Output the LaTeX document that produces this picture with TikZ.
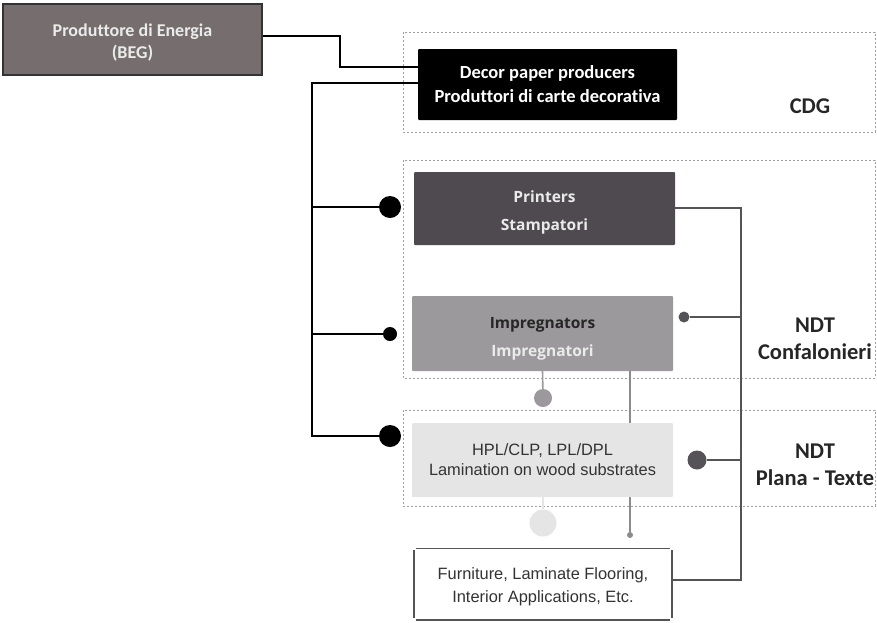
\documentclass[tikz,border=0pt]{standalone}
\usepackage{fontspec}
\setmainfont{Carlito}[Ligatures=NoCommon]
\newfontfamily\arialf{Liberation Sans}
\newfontfamily\opensf{Open Sans}
\definecolor{begc}{HTML}{756D6E}
\definecolor{printc}{HTML}{4E4A4F}
\definecolor{impc}{HTML}{9B999C}
\definecolor{hplc}{HTML}{E5E5E6}
\definecolor{linec}{HTML}{555358}
\definecolor{txtc}{HTML}{333333}
\begin{document}
\begin{tikzpicture}[x=1pt,y=1pt,
  box/.style={rectangle, inner sep=0pt, align=center, rounded corners=1pt},
  txt/.style={inner sep=0pt, align=center},
  grp/.style={draw=gray!75, dash pattern=on 2pt off 2pt, line width=0.9pt},
  lab/.style={font=\fontsize{22.5}{27}\selectfont\bfseries, align=center, text=black!85},
  dot/.style={circle, inner sep=0pt, minimum size=#1},
  blk/.style={line width=2.8pt, black},
  gln/.style={line width=2.4pt, linec}
]
\useasboundingbox (0,0) rectangle (877,-622);
% groups
\draw[grp] (403,-32) rectangle (875,-132);
\draw[grp] (403,-160) rectangle (875,-378);
\draw[grp] (403,-410) rectangle (875,-506);
\node[lab] (cdg) at (810,-106) {CDG};
\node[lab] (ndt1) at (815,-339) {NDT\\Confalonieri};
\node[lab] (ndt2) at (815,-465) {NDT\\Plana - Texte};
% coordinates
\coordinate (b0) at (312,-83);
\coordinate (b1) at (312,-207);
\coordinate (b2) at (312,-334);
\coordinate (b3) at (312,-436);
\coordinate (r0) at (741,-208);
\coordinate (r1) at (741,-317);
\coordinate (r2) at (741,-460);
\coordinate (r3) at (741,-580);
% dots
\node[dot=22pt, fill=black] (d1) at (390,-207) {};
\node[dot=14pt, fill=black] (d2) at (390,-334) {};
\node[dot=22pt, fill=black] (d3) at (390,-436) {};
\node[dot=11pt, fill=linec] (d4) at (684,-317) {};
\node[dot=19pt, fill=linec] (d5) at (697,-460) {};
\node[dot=8pt, fill=linec] (d6) at (669,-580) {};
\node[dot=18pt, fill=impc] (dg) at (543,-398) {};
\node[dot=27pt, fill=hplc] (dl) at (543,-523) {};
\node[dot=6pt, fill=impc!90!black] (dp) at (630,-535) {};
% nodes
\node[box, draw=black!80, line width=1.2pt, rounded corners=0pt, fill=begc, minimum width=259pt, minimum height=71pt] (beg) at (132.5,-39.5) {};
\node[txt, text=white!92!black, font=\fontsize{18}{22}\selectfont\bfseries] (begt) at ([yshift=-3pt]beg.center) {Produttore di Energia\\(BEG)};
\node[box, fill=black, minimum width=259pt, minimum height=71pt, text=white, font=\fontsize{18.5}{24}\selectfont\bfseries] (decor) at (547.5,-84.5) {Decor paper producers\\Produttori di carte decorativa};
\node[box, fill=printc, minimum width=261pt, minimum height=73pt] (print) at (544.5,-208.5) {};
\node[txt, text=white!92!black, font=\opensf\fontsize{15.5}{28}\selectfont\bfseries] (printt) at ([yshift=-4pt]print.center) {Printers\\Stampatori};
\node[box, fill=impc, minimum width=261pt, minimum height=75pt] (imp) at (542.5,-333.5) {};
\node[txt, font=\opensf\fontsize{15.5}{28}\selectfont\bfseries] (impt) at ([yshift=-5pt]imp.center) {\textcolor{black!85}{Impregnators}\\\textcolor{white!92!black}{Impregnatori}};
% connectors behind HPL
\draw[line width=1.6pt, impc] (imp.south) -- (dg);
\draw[line width=1.6pt, impc!90!black] (imp.south -| dp) -- (dp);
\draw[line width=1.6pt, hplc] (543,-496) -- (dl);
\node[box, fill=hplc, minimum width=261pt, minimum height=74pt, text=txtc, font=\arialf\fontsize{16.4}{20}\selectfont] (hpl) at (542.5,-460) {HPL/CLP, LPL/DPL\\Lamination on wood substrates};
\node[box, rounded corners=0pt, fill=white, minimum width=258pt, minimum height=71pt] (furn) at (543,-584) {};
\draw[linec, line width=1.6pt] ([xshift=2pt]furn.north west) -- ([xshift=-2pt]furn.north east);
\draw[linec, line width=1.6pt] ([xshift=2pt]furn.south west) -- ([xshift=-2pt]furn.south east);
\draw[linec, line width=2pt] ([yshift=-2pt]furn.north west) -- ([yshift=2pt]furn.south west);
\draw[linec, line width=2pt] ([yshift=-2pt]furn.north east) -- ([yshift=2pt]furn.south east);
\node[txt, text=txtc, font=\arialf\fontsize{16.4}{23}\selectfont] (furnt) at ([yshift=-2.5pt]furn.center) {Furniture, Laminate Flooring,\\Interior Applications, Etc.};
% black connectors
\draw[line width=2pt, black] (beg.east |- 0,-36) -- (340,-36) |- ([yshift=17.5pt]decor.west);
\draw[blk] ([yshift=1.5pt]decor.west) -- (b0) -- (b3) -- (d3);
\draw[blk] (b1) -- (d1);
\draw[blk] (b2) -- (d2);
% gray connectors
\draw[gln] (print.east |- r0) -- (r0) -- (r3) -- (d6);
\draw[gln] (r1) -- (d4);
\draw[gln] (r2) -- (d5);
\end{tikzpicture}
\end{document}
